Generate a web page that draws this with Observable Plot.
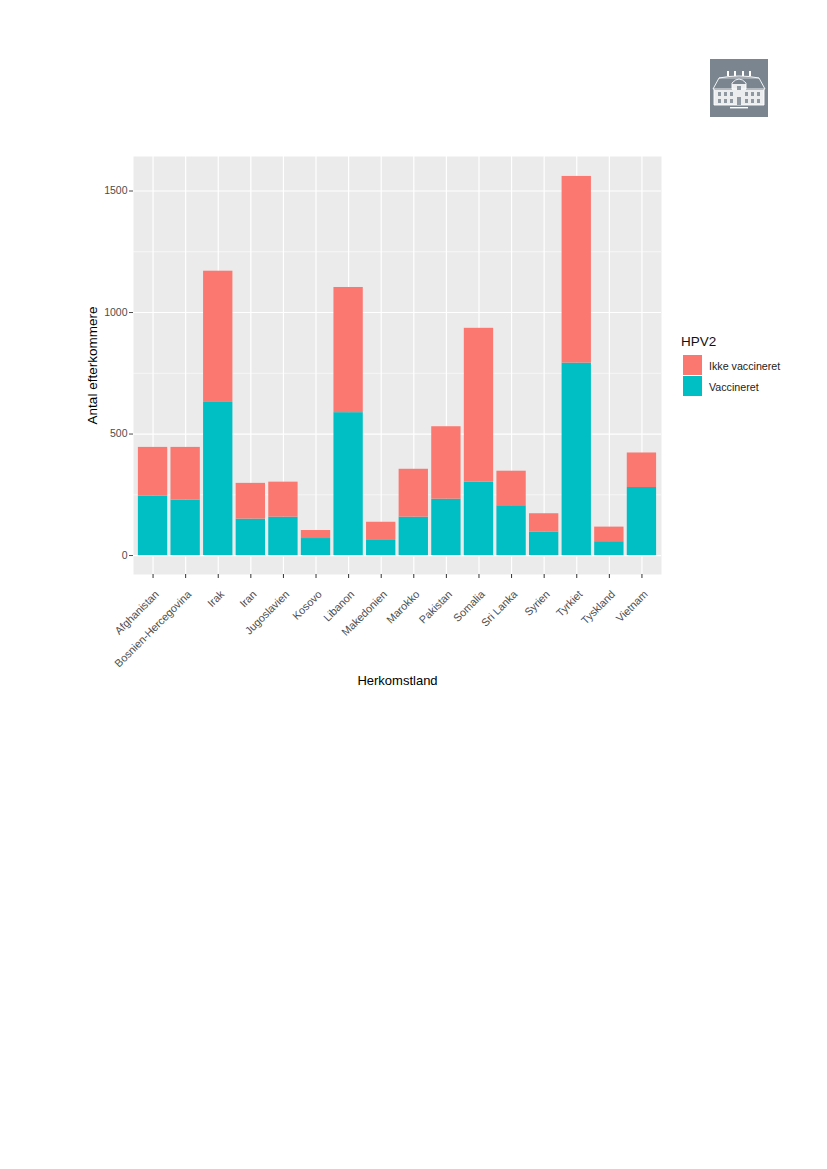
<!DOCTYPE html>
<html lang="da">
<head>
<meta charset="utf-8">
<script src="https://cdn.jsdelivr.net/npm/d3@7"></script>
<script src="https://cdn.jsdelivr.net/npm/@observablehq/plot@0.6"></script>
<style>
html,body{margin:0;padding:0;background:#fff;}
body{width:827px;height:1169px;position:relative;overflow:hidden;font-family:"Liberation Sans",Arial,sans-serif;}
#chart{position:absolute;left:0;top:0;}
#chart svg{background:transparent;}
#logo{position:absolute;left:710px;top:59px;width:58px;height:58px;}
#legend{position:absolute;left:681px;top:334px;width:120px;}
#legend .t{font-size:13.5px;line-height:16px;color:#111;height:20px;}
#legend .r{display:flex;align-items:center;height:21px;font-size:10.7px;color:#222;}
#legend .s{width:19px;height:20px;margin:0 7px 0 2px;}
#legend .l{position:relative;top:1.5px;}
</style>
</head>
<body>
<div id="chart"></div>
<svg id="logo" viewBox="0 0 58 58" aria-hidden="true">
  <rect width="58" height="58" fill="#7a8590"/>
  <g fill="none" stroke="#fff" stroke-width="0.9">
    <path d="M3 30 L9 19 Q29 15 49 19 L55 30"/>
    <path d="M9 19 H49" stroke-width="0.6"/>
    <path d="M3 30 H55"/>
    <path d="M4 30 V46 H54 V30"/>
    <path d="M22 30 V24 Q29 16 36 24 V30"/>
  </g>
  <g fill="#fff">
    <rect x="17" y="12" width="2" height="5"/><rect x="24" y="12" width="2" height="5"/>
    <rect x="32" y="12" width="2" height="5"/><rect x="39" y="12" width="2" height="5"/>
    <rect x="4" y="31" width="50" height="15" opacity=".85"/>
    <rect x="22" y="25" width="14" height="6" opacity=".85"/>
    <rect x="20" y="48" width="18" height="1.4"/>
  </g>
  <g fill="#7a8590" opacity=".8">
    <rect x="8" y="33" width="3" height="4"/><rect x="14" y="33" width="3" height="4"/><rect x="20" y="33" width="3" height="4"/>
    <rect x="35" y="33" width="3" height="4"/><rect x="41" y="33" width="3" height="4"/><rect x="47" y="33" width="3" height="4"/>
    <rect x="8" y="40" width="3" height="4"/><rect x="14" y="40" width="3" height="4"/><rect x="20" y="40" width="3" height="4"/>
    <rect x="35" y="40" width="3" height="4"/><rect x="41" y="40" width="3" height="4"/><rect x="47" y="40" width="3" height="4"/>
    <rect x="27" y="38" width="4" height="8"/><rect x="27" y="27" width="4" height="4"/>
  </g>
</svg>
<div id="legend">
  <div class="t">HPV2</div>
  <div class="r"><span class="s" style="background:#fb7870"></span><span class="l">Ikke vaccineret</span></div>
  <div class="r"><span class="s" style="background:#00bfc4"></span><span class="l">Vaccineret</span></div>
</div>
<script>
const countries = ["Afghanistan","Bosnien-Hercegovina","Irak","Iran","Jugoslavien","Kosovo","Libanon","Makedonien","Marokko","Pakistan","Somalia","Sri Lanka","Syrien","Tyrkiet","Tyskland","Vietnam"];
const vaccineret = [245,228,630,150,158,70,588,62,158,232,302,205,97,792,57,280];
const ikkeVaccineret = [200,217,540,147,144,33,515,75,197,298,633,142,75,768,60,142];
const groups = ["Ikke vaccineret","Vaccineret"];
const colors = ["#fb7870","#00bfc4"];
const majorTicks = [0,500,1000,1500];
const minorTicks = [250,750,1250];

const rows = [
  ...countries.map((c,i)=>({land:c,gruppe:"Vaccineret",antal:vaccineret[i]})),
  ...countries.map((c,i)=>({land:c,gruppe:"Ikke vaccineret",antal:ikkeVaccineret[i]}))
];

const plot = Plot.plot({
  width: 827, height: 700,
  marginTop: 156, marginBottom: 126, marginLeft: 133, marginRight: 166,
  style: {fontFamily: '"Liberation Sans", Arial, sans-serif', background: "transparent", overflow: "visible"},
  x: {type: "band", domain: countries, paddingInner: 0.1, paddingOuter: 0.15, round: false},
  y: {domain: [-78, 1642]},
  color: {domain: groups, range: colors},
  marks: [
    Plot.frame({fill: "#ebebeb", stroke: null}),
    Plot.ruleY(minorTicks, {stroke: "#fff", strokeWidth: 0.6}),
    Plot.ruleY(majorTicks, {stroke: "#fff", strokeWidth: 1.2}),
    Plot.ruleX(countries, {x: d => d, stroke: "#fff", strokeWidth: 1.2}),
    Plot.barY(rows, {x: "land", y: "antal", fill: "gruppe", order: null}),
    Plot.axisY({ticks: majorTicks, tickFormat: d3.format("d"), tickSize: 4, tickPadding: 2, fontSize: 10.5, color: "#4d4d4d",
      label: "Antal efterkommere", labelAnchor: "center", labelArrow: "none", labelOffset: 46}),
    Plot.axisX({tickSize: 4, text: null, color: "#333", label: null}),
    Plot.axisX({tickSize: 0, tickPadding: 18, tickRotate: -45, fontSize: 10.8, color: "#4d4d4d", dx: 4,
      label: null}),
    Plot.axisX({ticks: [], tickSize: 0, label: "Herkomstland", labelAnchor: "center", labelArrow: "none", labelOffset: 110})
  ]
});
document.getElementById("chart").appendChild(plot);
d3.select(plot).selectAll('[aria-label="y-axis label"] text').style("font-size","13.5px").style("fill","#000");
d3.select(plot).selectAll('[aria-label="x-axis label"] text').style("font-size","13px").style("fill","#000");
</script>
</body>
</html>
